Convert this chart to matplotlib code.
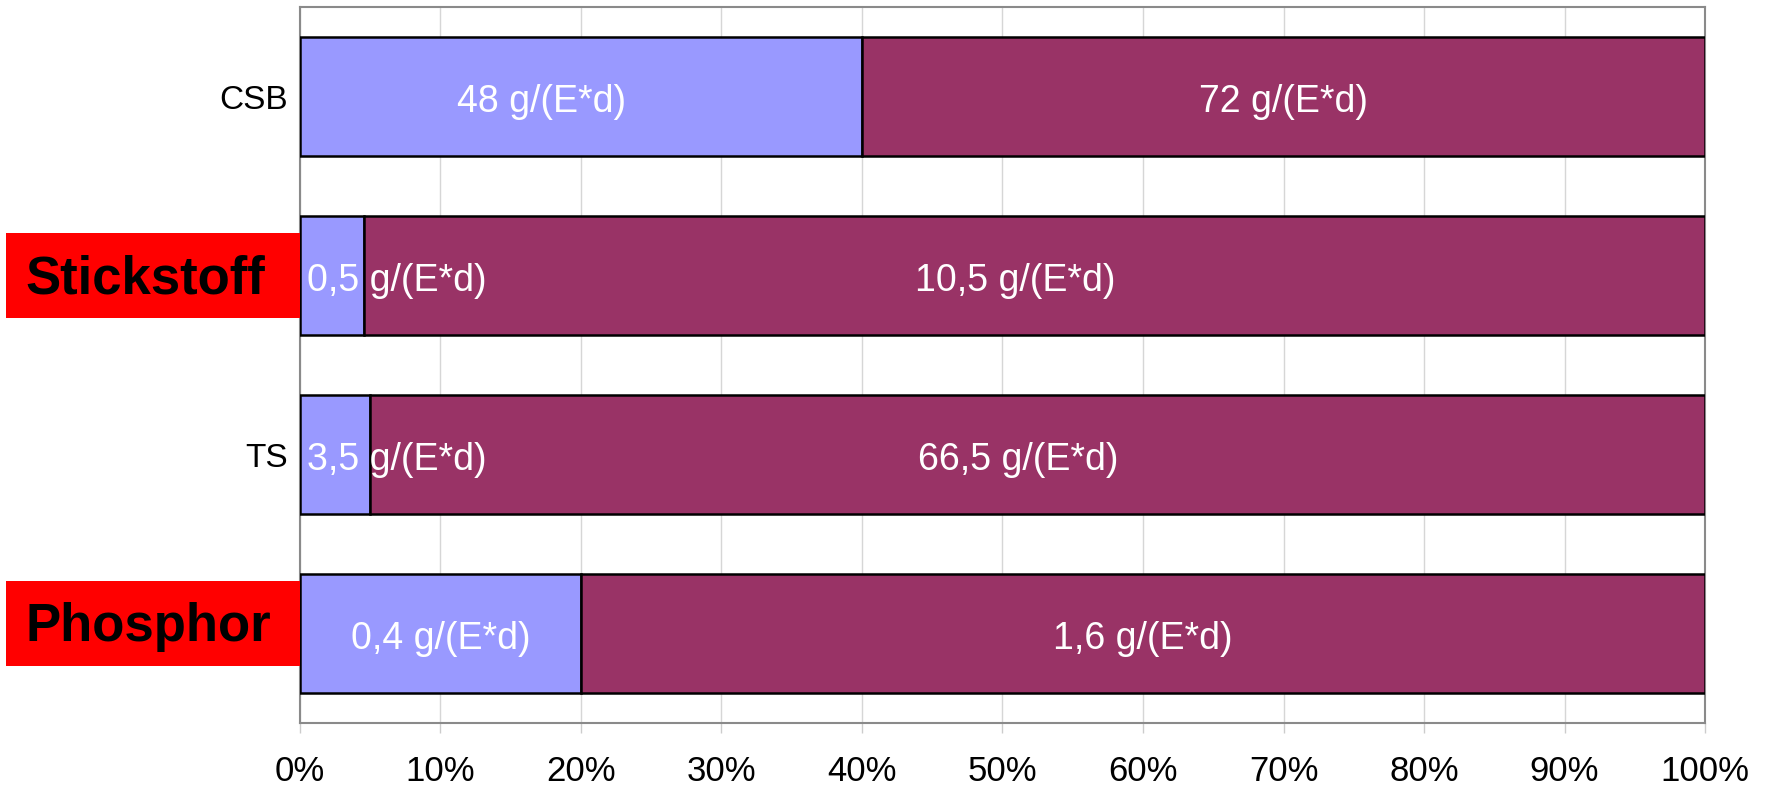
import matplotlib
matplotlib.use("Agg")
import matplotlib.pyplot as plt
import matplotlib.transforms as mtransforms
from matplotlib.patches import Rectangle

plt.rcParams['font.family'] = ['Liberation Sans', 'DejaVu Sans']

# data
categories = ['CSB', 'Stickstoff', 'TS', 'Phosphor']
highlight = [False, True, False, True]
part_a = [48, 0.5, 3.5, 0.4]     # g/(E*d)
part_b = [72, 10.5, 66.5, 1.6]   # g/(E*d)
label_a = ['48', '0,5', '3,5', '0,4']
label_b = ['72', '10,5', '66,5', '1,6']
xticks = [0, 10, 20, 30, 40, 50, 60, 70, 80, 90, 100]

blue = '#9999ff'
purple = '#993366'

fig = plt.figure(figsize=(17.77, 7.87), dpi=100)
ax = fig.add_axes([0.1688, 0.0813, 0.7907, 0.9098])

y = list(range(len(categories)))
pa = [a / (a + b) * 100 for a, b in zip(part_a, part_b)]
pb = [b / (a + b) * 100 for a, b in zip(part_a, part_b)]

ax.barh(y, pa, height=0.66, color=blue, edgecolor='black', linewidth=1.8, zorder=3)
ax.barh(y, pb, left=pa, height=0.66, color=purple, edgecolor='black', linewidth=1.8, zorder=3)

# labels in the bars
fs = 27
for i in y:
    ta = label_a[i] + ' g/(E*d)'
    tb = label_b[i] + ' g/(E*d)'
    yt = i + 0.03
    if pa[i] < 8:
        # small share: label starts at the left edge and runs over the split
        ax.text(0.5, yt, ta, ha='left', va='center', color='white', fontsize=fs, zorder=4)
        ax.text(pa[i] + pb[i] / 2 - 1.4, yt, tb, ha='center', va='center', color='white',
                fontsize=fs, zorder=4)
    else:
        xa = pa[i] / 2 if pa[i] < 30 else pa[i] * 0.43
        ax.text(xa, yt, ta, ha='center', va='center', color='white', fontsize=fs, zorder=4)
        ax.text(pa[i] + pb[i] / 2, yt, tb, ha='center', va='center', color='white',
                fontsize=fs, zorder=4)

ax.set_xlim(0, 100)
ax.set_ylim(len(categories) - 0.5, -0.5)
ax.set_xticks(xticks)
ax.set_xticklabels([f'{t}%' for t in xticks], fontsize=25)
ax.set_yticks(y)
ax.set_yticklabels([c if not h else '' for c, h in zip(categories, highlight)], fontsize=24)
ax.tick_params(axis='y', length=0, pad=9)
ax.tick_params(axis='x', length=7, width=1, color='#cccccc', pad=16)
ax.grid(axis='x', color='#d6d6d6', linewidth=1, zorder=0)
for s in ax.spines.values():
    s.set_color('#8a8a8a')
    s.set_linewidth(1.5)

# red boxes for highlighted categories
trans = mtransforms.blended_transform_factory(ax.transAxes, ax.transData)
for i, (c, h) in enumerate(zip(categories, highlight)):
    if not h:
        continue
    yc = i - (0.056 if c == 'Phosphor' else 0)
    ax.add_patch(Rectangle((-0.2093, yc - 0.2375), 0.2093, 0.475, transform=trans,
                           facecolor='#ff0000', edgecolor='none', clip_on=False, zorder=5))
    ax.text(-0.1955, yc + 0.02, c, transform=trans, ha='left', va='center', fontsize=38,
            fontweight='bold', color='black', zorder=6)

fig.savefig('out.png', dpi=100)
